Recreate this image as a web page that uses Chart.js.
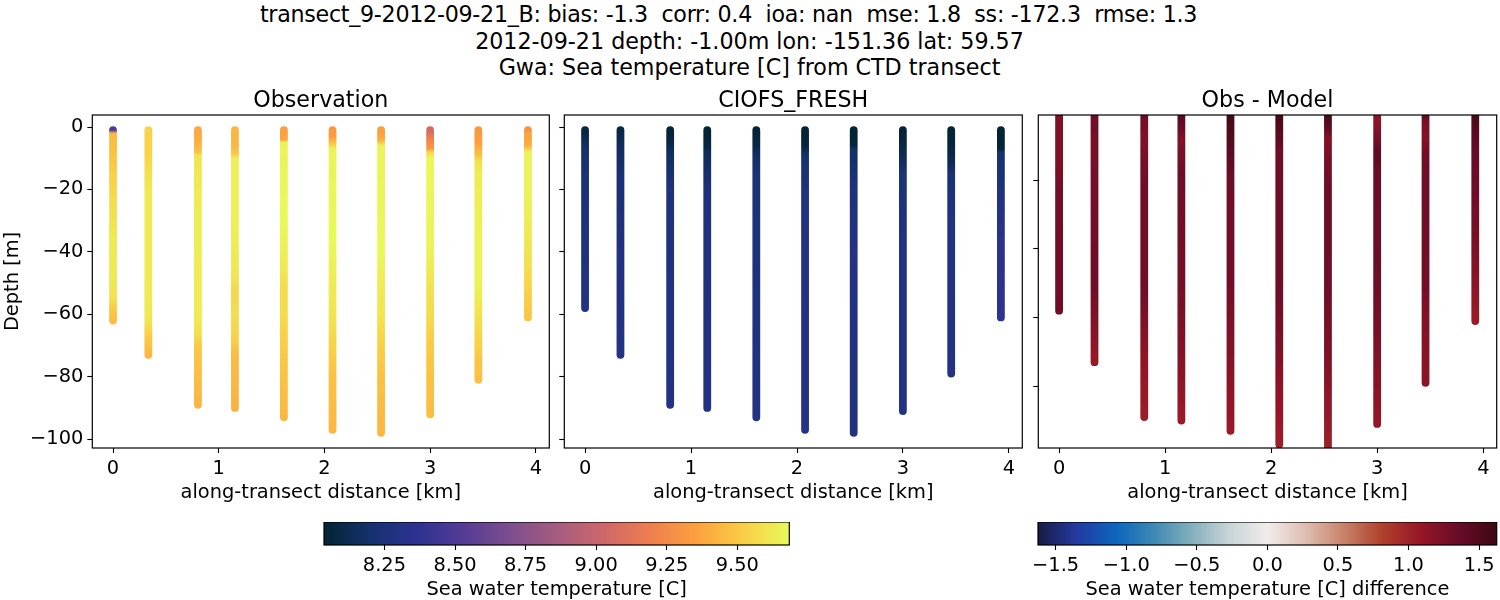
<!DOCTYPE html>
<html>
<head>
<meta charset="utf-8">
<script src="https://cdn.jsdelivr.net/npm/chart.js@4/dist/chart.umd.min.js"></script>
<style>
    html, body { margin: 0; background: #fff; }
    #page { position: relative; width: 1500px; height: 600px; overflow: hidden; }
    canvas { position: absolute; }
    .sup { position: absolute; transform: translateX(-50%); white-space: pre; font: 22.2px/26px "DejaVu Sans"; color: #000; }
</style>
</head>
<body>
<div id="page">
    <div class="sup" style="left:728.5px;top:1px;letter-spacing:-0.28px">transect_9-2012-09-21_B: bias: -1.3  corr: 0.4  ioa: nan  mse: 1.8  ss: -172.3  rmse: 1.3</div>
    <div class="sup" style="left:749.5px;top:28px">2012-09-21 depth: -1.00m lon: -151.36 lat: 59.57</div>
    <div class="sup" style="left:749.5px;top:54px">Gwa: Sea temperature [C] from CTD transect</div>
    <canvas id="obsChart"></canvas>
    <canvas id="modelChart"></canvas>
    <canvas id="diffChart"></canvas>
    <canvas id="tempBar"></canvas>
    <canvas id="diffBar"></canvas>
</div>
<script>
// along-transect distance of each cast [km]
const distance = [0, 0.334, 0.803, 1.153, 1.616, 2.076, 2.535, 2.999, 3.455, 3.924];

// observation: depths [m] and temperatures [C] read at each cast
const obsDepth = [
    [1, 2, 8, 15, 25, 35, 45, 55, 57, 62],
    [1, 8, 12, 20, 40, 55, 62, 66, 70, 73],
    [1, 4, 8, 9, 30, 50, 60, 66, 70, 80, 89],
    [1, 6, 9, 10, 30, 48, 52, 60, 68, 72, 90],
    [1, 4, 5, 30, 45, 52, 60, 67, 80, 93],
    [1, 3, 5, 7, 35, 50, 62, 68, 80, 97],
    [1, 4, 6, 40, 50, 60, 70, 80, 98],
    [1, 4, 7, 8, 10, 40, 50, 60, 70, 80, 92],
    [1, 5, 9, 11, 15, 35, 50, 60, 70, 75, 81],
    [1, 2, 6, 8, 20, 35, 45, 52, 61]
];
const obsTemp = [
    [8.5, 9.45, 9.48, 9.53, 9.58, 9.62, 9.63, 9.6, 9.53, 9.46],
    [9.54, 9.54, 9.57, 9.62, 9.62, 9.63, 9.61, 9.53, 9.48, 9.44],
    [9.38, 9.4, 9.47, 9.61, 9.64, 9.63, 9.63, 9.6, 9.5, 9.46, 9.43],
    [9.44, 9.44, 9.52, 9.65, 9.65, 9.61, 9.55, 9.58, 9.53, 9.46, 9.42],
    [9.34, 9.37, 9.66, 9.68, 9.62, 9.57, 9.57, 9.53, 9.48, 9.44],
    [9.32, 9.34, 9.47, 9.66, 9.68, 9.63, 9.6, 9.55, 9.48, 9.44],
    [9.34, 9.4, 9.66, 9.68, 9.63, 9.61, 9.53, 9.48, 9.44],
    [9.05, 9.22, 9.32, 9.55, 9.68, 9.66, 9.6, 9.57, 9.51, 9.48, 9.46],
    [9.32, 9.35, 9.47, 9.59, 9.63, 9.66, 9.66, 9.6, 9.53, 9.49, 9.47],
    [9.3, 9.36, 9.4, 9.66, 9.66, 9.62, 9.58, 9.54, 9.49]
];

// model
const modelDepth = [
    [1, 3, 6, 15, 58],
    [1, 5, 15, 40, 73],
    [1, 5, 8, 20, 89],
    [1, 6, 8, 20, 90],
    [1, 6, 9, 15, 93],
    [1, 6, 9, 20, 97],
    [1, 6, 7, 20, 40, 98],
    [1, 5, 10, 15, 40, 91],
    [1, 5, 12, 15, 30, 79],
    [1, 7, 8, 25, 35, 61]
];
const modelTemp = [
    [8.07, 8.1, 8.18, 8.24, 8.3],
    [8.07, 8.14, 8.22, 8.28, 8.3],
    [8.05, 8.08, 8.16, 8.27, 8.3],
    [8.05, 8.07, 8.14, 8.26, 8.3],
    [8.04, 8.08, 8.17, 8.24, 8.3],
    [8.04, 8.06, 8.2, 8.28, 8.31],
    [8.04, 8.06, 8.18, 8.27, 8.3, 8.28],
    [8.05, 8.08, 8.14, 8.25, 8.3, 8.3],
    [8.04, 8.06, 8.13, 8.24, 8.28, 8.3],
    [8.04, 8.05, 8.2, 8.3, 8.34, 8.37]
];

// obs - model
const diffDepth = [
    [1, 12, 25, 58],
    [1, 8, 30, 50, 60, 73],
    [1, 8, 15, 25, 50, 62, 75, 89],
    [1, 5, 8, 12, 18, 50, 70, 90],
    [1, 8, 14, 20, 50, 70, 85, 93],
    [1, 6, 12, 50, 70, 85, 97],
    [1, 4, 8, 12, 20, 50, 75, 98],
    [1, 5, 8, 12, 18, 50, 70, 91],
    [1, 3, 8, 12, 18, 50, 60, 79],
    [1, 8, 15, 30, 45, 61]
];
const diffValue = [
    [1.22, 1.22, 1.3, 1.32],
    [1.32, 1.27, 1.3, 1.33, 1.22, 1.07],
    [1.3, 1.22, 1.28, 1.33, 1.33, 1.22, 1.1, 1.03],
    [1.45, 1.35, 1.2, 1.25, 1.33, 1.28, 1.2, 1.05],
    [1.58, 1.48, 1.4, 1.32, 1.3, 1.2, 1.1, 1.06],
    [1.55, 1.45, 1.32, 1.33, 1.22, 1.1, 1.03],
    [1.55, 1.45, 1.2, 1.25, 1.32, 1.33, 1.2, 1.02],
    [1.12, 1.2, 1.3, 1.42, 1.35, 1.33, 1.22, 1.08],
    [1.45, 1.25, 1.2, 1.3, 1.33, 1.3, 1.2, 1.15],
    [1.55, 1.42, 1.35, 1.3, 1.2, 1.05]
];

const distanceTicks = [0, 1, 2, 3, 4];
const depthTicks = [0, -20, -40, -60, -80, -100];
const diffDepthTicks = [-20, -40, -60, -80];
const tempBarTicks = [8.25, 8.5, 8.75, 9, 9.25, 9.5];
const diffBarTicks = [-1.5, -1, -0.5, 0, 0.5, 1, 1.5];
const tempRange = [8.036, 9.684];
const diffRange = [-1.625, 1.625];

// colormaps: thermal and balance, picked off the colorbars
const thermal = [[4, 35, 51], [21, 50, 110], [45, 50, 145], [85, 60, 150], [125, 78, 142], [165, 92, 128],
    [205, 103, 106], [238, 125, 80], [252, 160, 62], [250, 205, 70], [232, 250, 91]];
const balance = [[24, 28, 67], [36, 58, 160], [12, 100, 190], [60, 135, 180], [130, 175, 188], [200, 212, 215],
    [241, 236, 236], [222, 190, 178], [200, 130, 105], [175, 65, 45], [150, 22, 38], [105, 12, 40], [60, 9, 18]];

function colorAt(map, range, value) {
    const t = Math.min(1, Math.max(0, (value - range[0]) / (range[1] - range[0]))) * (map.length - 1);
    const i = Math.min(map.length - 2, Math.floor(t));
    const c = map[i].map((a, k) => Math.round(a + (map[i + 1][k] - a) * (t - i)));
    return `rgb(${c[0]}, ${c[1]}, ${c[2]})`;
}

Chart.defaults.font.family = '"DejaVu Sans"';
Chart.defaults.font.size = 19.4;
Chart.defaults.color = '#000';
Chart.defaults.animation = false;
Chart.defaults.responsive = false;

// black frame on top of the marks, like the axes box
const frame = {
    id: 'frame',
    afterDatasetsDraw(chart) {
        const a = chart.chartArea, c = chart.ctx;
        c.save();
        c.strokeStyle = '#000';
        c.lineWidth = 1.2;
        c.strokeRect(a.left, a.top, a.right - a.left, a.bottom - a.top);
        c.restore();
    }
};

function minusLabel(v, digits) {
    return v.toFixed(digits).replace('-', '\u2212');
}

function axisBase(ticks, labels, size) {
    return {
        type: 'linear',
        grid: { drawOnChartArea: false, tickLength: 5, tickColor: '#000', tickWidth: 1.1 },
        border: { display: false },
        afterBuildTicks: s => { s.ticks = ticks.map(v => ({ value: v })); },
        afterFit: s => { if (s.isHorizontal()) s.height = size; else s.width = size; },
        ticks: { padding: 4, maxRotation: 0, autoSkip: false, callback: labels }
    };
}

// one gradient down the whole cast, so each cast is stroked in a single pass
function castGradient(ctx, depths, values, map, range) {
    const y = ctx.chart.scales.y;
    if (!y || !ctx.chart.chartArea) return 'rgba(0, 0, 0, 0)';
    const top = depths[0], bottom = depths[depths.length - 1];
    const g = ctx.chart.ctx.createLinearGradient(0, y.getPixelForValue(-top), 0, y.getPixelForValue(-bottom));
    depths.forEach((d, j) => g.addColorStop((d - top) / (bottom - top), colorAt(map, range, values[j])));
    return g;
}

function panel(id, box, title, depths, values, map, range, yMin, yMax, yTicks, yTitle) {
    const canvas = document.getElementById(id);
    canvas.width = box.w;
    canvas.height = 421;
    canvas.style.left = box.x + 'px';
    canvas.style.top = '84px';

    const datasets = distance.map((x, i) => ({
        data: depths[i].map(d => ({ x: x, y: -d })),
        showLine: true,
        pointRadius: 0,
        borderWidth: 7.8,
        borderCapStyle: 'round',
        clip: 0,
        borderColor: ctx => castGradient(ctx, depths[i], values[i], map, range)
    }));

    const xAxis = axisBase(distanceTicks, v => String(v), 57);
    xAxis.min = -0.196;
    xAxis.max = 4.126;
    xAxis.title = { display: true, text: 'along-transect distance [km]', padding: { top: 0, bottom: 0.5 } };

    const yAxis = axisBase(yTicks, box.labels ? v => minusLabel(v, 0) : () => '', box.axisW);
    yAxis.min = yMin;
    yAxis.max = yMax;
    if (yTitle) yAxis.title = { display: true, text: yTitle, padding: { top: 1, bottom: 0 } };

    return new Chart(canvas, {
        type: 'scatter',
        data: { datasets: datasets },
        options: {
            layout: { padding: { right: box.right } },
            plugins: {
                legend: { display: false },
                tooltip: { enabled: false },
                title: {
                    display: true,
                    text: title,
                    fullSize: false,
                    font: { size: 22.2, weight: 'normal' },
                    padding: { top: 4, bottom: 0.36 }
                }
            },
            scales: { x: xAxis, y: yAxis }
        },
        plugins: [frame]
    });
}

function colorbar(id, box, label, range, map, ticks, digits) {
    const canvas = document.getElementById(id);
    canvas.width = box.w;
    canvas.height = 80;
    canvas.style.left = box.x + 'px';
    canvas.style.top = '522px';

    const xAxis = axisBase(ticks, v => minusLabel(v, digits), 57);
    xAxis.min = range[0];
    xAxis.max = range[1];
    xAxis.title = { display: true, text: label, padding: { top: 0, bottom: 0.5 } };

    return new Chart(canvas, {
        type: 'bar',
        data: {
            labels: [''],
            datasets: [{
                data: [range],
                barPercentage: 1,
                categoryPercentage: 1,
                backgroundColor: ctx => {
                    const a = ctx.chart.chartArea;
                    if (!a) return '#fff';
                    const g = ctx.chart.ctx.createLinearGradient(a.left, 0, a.right, 0);
                    for (let i = 0; i <= 100; i++) g.addColorStop(i / 100, colorAt(map, [0, 100], i));
                    return g;
                }
            }]
        },
        options: {
            indexAxis: 'y',
            layout: { padding: { left: box.left, right: box.right } },
            plugins: { legend: { display: false }, tooltip: { enabled: false } },
            scales: { x: xAxis, y: { display: false } }
        },
        plugins: [frame]
    });
}

panel('obsChart', { x: 0, w: 552, axisW: 92.3, right: 2.7, labels: true }, 'Observation',
    obsDepth, obsTemp, thermal, tempRange, -102.85, 3.85, depthTicks, 'Depth [m]');
panel('modelChart', { x: 554, w: 472, axisW: 10.3, right: 3.7, labels: false }, 'CIOFS_FRESH',
    modelDepth, modelTemp, thermal, tempRange, -102.85, 3.85, depthTicks, null);
panel('diffChart', { x: 1028, w: 472, axisW: 10.3, right: 3.3, labels: false }, 'Obs - Model',
    diffDepth, diffValue, balance, diffRange, -98, -1, diffDepthTicks, null);

colorbar('tempBar', { x: 294, w: 525, left: 30, right: 29.7 }, 'Sea water temperature [C]',
    tempRange, thermal, tempBarTicks, 2);
colorbar('diffBar', { x: 1008, w: 492, left: 30, right: 3.3 }, 'Sea water temperature [C] difference',
    diffRange, balance, diffBarTicks, 1);
</script>
</body>
</html>
